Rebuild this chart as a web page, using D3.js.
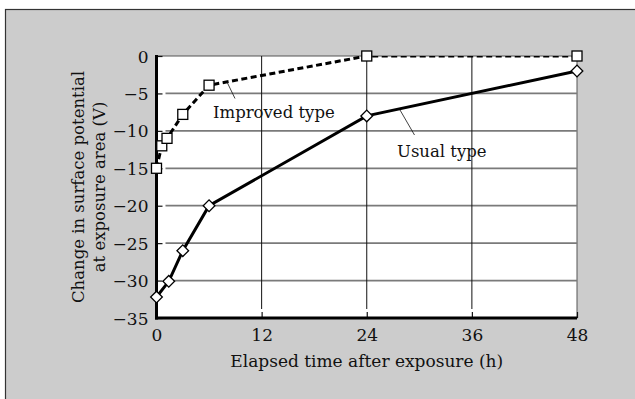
<!DOCTYPE html>
<html>
<head>
<meta charset="utf-8">
<script src="https://cdn.jsdelivr.net/npm/d3@7"></script>
<style>
  html, body { margin: 0; padding: 0; background: #fff; }
  svg text { font-family: "DejaVu Serif", serif; fill: #111; }
</style>
</head>
<body>
<svg id="chart" width="635" height="399"></svg>
<script>
// values
var improvedHours = [0, 0.6, 1.2, 3, 6, 24, 48];
var improvedVolts = [-15, -12, -11, -7.8, -3.9, 0, 0];
var usualHours = [0, 1.4, 3, 6, 24, 48];
var usualVolts = [-32.2, -30.1, -26, -20, -8, -2];
var xTicks = [0, 12, 24, 36, 48];
var yTicks = [0, -5, -10, -15, -20, -25, -30, -35];
var labels = ["Improved type", "Usual type"];

var svg = d3.select("#chart");
var pLeft = 156.5, pRight = 577, pTop = 56, pBottom = 318;

// gray frame
svg.append("rect").attr("x", 5.5).attr("y", 9.5).attr("width", 640).attr("height", 400)
  .attr("fill", "#cccccc").attr("stroke", "#333").attr("stroke-width", 1.2);

var x = d3.scaleLinear().domain([0, 48]).range([pLeft, pRight]);
var y = d3.scaleLinear().domain([-35, 0]).range([pBottom, pTop]);

svg.append("rect").attr("x", pLeft).attr("y", pTop).attr("width", pRight - pLeft).attr("height", pBottom - pTop)
  .attr("fill", "#fff").attr("stroke", "#555").attr("stroke-width", 1);

svg.append("clipPath").attr("id", "clip").append("rect")
  .attr("x", pLeft).attr("y", pTop).attr("width", pRight - pLeft).attr("height", pBottom - pTop);

// horizontal grid (gray), with gap near the axis
svg.append("g").selectAll("line").data(yTicks.filter(function(d) { return d > -35 && d < 0; })).enter()
  .append("line")
  .attr("x1", pLeft + 9).attr("x2", pRight).attr("y1", function(d) { return y(d); }).attr("y2", function(d) { return y(d); })
  .attr("stroke", "#7a7a7a").attr("stroke-width", 1.8);

// vertical grid (black)
svg.append("g").selectAll("line").data(xTicks.filter(function(d) { return d > 0 && d < 48; })).enter()
  .append("line")
  .attr("x1", function(d) { return x(d); }).attr("x2", function(d) { return x(d); })
  .attr("y1", pTop).attr("y2", pBottom - 9)
  .attr("stroke", "#111").attr("stroke-width", 1);

// axes with inward ticks
var yAxis = svg.append("g").attr("transform", "translate(" + pLeft + ",0)")
  .call(d3.axisLeft(y).tickValues(yTicks).tickSize(-6).tickPadding(8)
    .tickFormat(function(d) { return d === 0 ? "0" : "\u2212" + Math.abs(d); }));
var xAxis = svg.append("g").attr("transform", "translate(0," + pBottom + ")")
  .call(d3.axisBottom(x).tickValues(xTicks).tickSize(-6).tickPadding(8));

[yAxis, xAxis].forEach(function(a) {
  a.select(".domain").remove();
  a.selectAll(".tick line").attr("stroke", "#111").attr("stroke-width", 1.2);
  a.selectAll("text").attr("font-size", 17).attr("font-family", "DejaVu Serif, serif").attr("fill", "#111");
});
yAxis.selectAll(".tick text").attr("dy", "0.36em");
xAxis.selectAll(".tick text").attr("dy", "0.9em");

// thick left and bottom axis lines
svg.append("line").attr("x1", pLeft).attr("x2", pLeft).attr("y1", pTop - 1).attr("y2", pBottom + 1.5)
  .attr("stroke", "#000").attr("stroke-width", 3);
svg.append("line").attr("x1", pLeft - 1.5).attr("x2", pRight).attr("y1", pBottom).attr("y2", pBottom)
  .attr("stroke", "#000").attr("stroke-width", 3);

var improved = improvedHours.map(function(h, i) { return [h, improvedVolts[i]]; });
var usual = usualHours.map(function(h, i) { return [h, usualVolts[i]]; });
var line = d3.line().x(function(d) { return x(d[0]); }).y(function(d) { return y(d[1]); });

svg.append("path").datum(improved).attr("d", line).attr("clip-path", "url(#clip)")
  .attr("fill", "none").attr("stroke", "#000").attr("stroke-width", 3).attr("stroke-dasharray", "6,3.5");
svg.append("path").datum(usual).attr("d", line)
  .attr("fill", "none").attr("stroke", "#000").attr("stroke-width", 3);

// markers
svg.append("g").selectAll("rect").data(improved).enter().append("rect")
  .attr("x", function(d) { return x(d[0]) - 5; }).attr("y", function(d) { return y(d[1]) - 5; })
  .attr("width", 10).attr("height", 10).attr("fill", "#fff").attr("stroke", "#000").attr("stroke-width", 1.3);
svg.append("g").selectAll("path").data(usual).enter().append("path")
  .attr("d", d3.symbol().type(d3.symbolSquare).size(68))
  .attr("transform", function(d) { return "translate(" + x(d[0]) + "," + y(d[1]) + ") rotate(45)"; })
  .attr("fill", "#fff").attr("stroke", "#000").attr("stroke-width", 1.3);

// annotations
svg.append("line").attr("x1", 227).attr("y1", 82).attr("x2", 235).attr("y2", 98.5)
  .attr("stroke", "#111").attr("stroke-width", 0.8);
svg.append("text").attr("x", 213).attr("y", 118).attr("font-size", 16.5).text(labels[0]);
svg.append("line").attr("x1", 400).attr("y1", 110).attr("x2", 414.5).attr("y2", 135)
  .attr("stroke", "#111").attr("stroke-width", 0.8);
svg.append("text").attr("x", 397).attr("y", 157).attr("font-size", 16.5).text(labels[1]);

// axis titles
svg.append("text").attr("x", (pLeft + pRight) / 2).attr("y", 367).attr("text-anchor", "middle")
  .attr("font-size", 17).text("Elapsed time after exposure (h)");
var yt = svg.append("text").attr("transform", "translate(84,187) rotate(-90)").attr("text-anchor", "middle")
  .attr("font-size", 16.5);
yt.append("tspan").attr("x", 0).attr("y", 0).text("Change in surface potential");
yt.append("tspan").attr("x", 0).attr("y", 21).text("at exposure area (V)");
</script>
</body>
</html>
